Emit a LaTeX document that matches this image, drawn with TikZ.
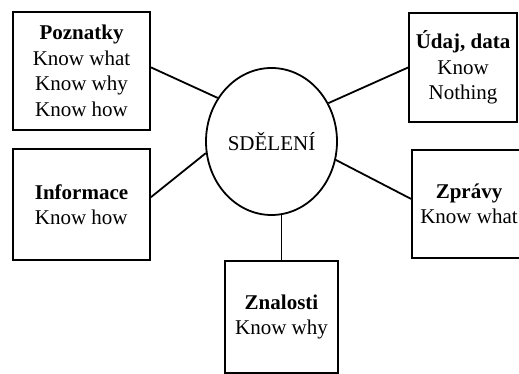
\documentclass[tikz,border=0pt]{standalone}
\usepackage{fontspec}
\setmainfont{Liberation Serif}
\usetikzlibrary{shapes.geometric}
\begin{document}
\begin{tikzpicture}[x=1pt,y=1pt,
  txt/.style={font=\fontsize{21}{25.5}\selectfont},
  box/.style={draw,line width=1.8pt,rectangle,inner sep=0pt,align=center,txt},
  hub/.style={draw,line width=1.8pt,ellipse,inner sep=0pt,minimum width=131,minimum height=147,txt},
  conn/.style={line width=1.8pt}]
\useasboundingbox (0,0) rectangle (519,374);
\clip (0,0) rectangle (519,374);
\node[hub] (sdel) at (271.5,232.5) {SDĚLENÍ};
\node[box,minimum width=137,minimum height=118] (pozn) at (81.5,303) {\textbf{Poznatky}\\Know what\\Know why\\Know how};
\node[box,align=left,minimum width=137,minimum height=111] (info) at (81.5,169.5) {\textbf{Informace}\\Know how};
\node[box,minimum width=108,minimum height=109] (udaj) at (463,306.5) {\textbf{Údaj, data}\\Know\\Nothing};
\node[box,minimum width=114,minimum height=108] (zpr) at (469,170) {\textbf{Zprávy}\\Know what};
\node[box,minimum width=113,minimum height=112] (zna) at (281.5,57) {\textbf{Znalosti}\\Know why};
\draw[conn] (pozn.3) -- (sdel.141);
\draw[conn] (info.6) -- (sdel.190);
\draw[conn] (sdel.34.5) -- (udaj.west);
\draw[conn] (sdel.344) -- (zpr.175);
\coordinate (znatop) at (sdel.south -| zna.north);
\draw[conn] (zna.north) -- ([yshift=1]znatop);
\end{tikzpicture}
\end{document}
